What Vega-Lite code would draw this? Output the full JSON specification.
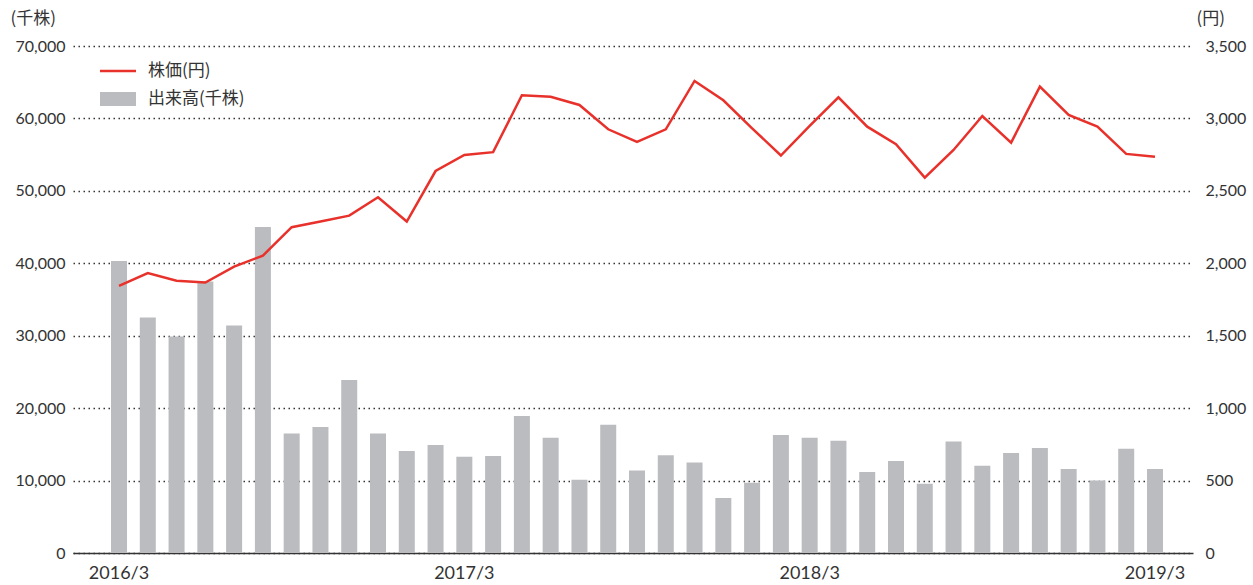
{
  "$schema": "https://vega.github.io/schema/vega-lite/v6.json",
  "width": 1120,
  "height": 507,
  "autosize": {"type": "none"},
  "padding": {"left": 73, "top": 46, "right": 60, "bottom": 32},
  "background": "white",
  "config": {
    "view": {"stroke": null},
    "font": "Lato",
    "axis": {"labelFont": "Lato", "labelFontSize": 16, "labelColor": "#333333", "titleFont": "Noto Sans CJK JP", "titleFontSize": 17, "titleFontWeight": "normal", "titleColor": "#333333"}
  },
  "data": {
    "values": [
      {"month": "2016/3", "volume": 40300, "price": 1844},
      {"month": "2016/4", "volume": 32500, "price": 1932},
      {"month": "2016/5", "volume": 29900, "price": 1879},
      {"month": "2016/6", "volume": 37500, "price": 1867},
      {"month": "2016/7", "volume": 31400, "price": 1977},
      {"month": "2016/8", "volume": 45000, "price": 2053},
      {"month": "2016/9", "volume": 16500, "price": 2249},
      {"month": "2016/10", "volume": 17400, "price": 2288},
      {"month": "2016/11", "volume": 23900, "price": 2329},
      {"month": "2016/12", "volume": 16500, "price": 2456},
      {"month": "2017/1", "volume": 14100, "price": 2288},
      {"month": "2017/2", "volume": 14900, "price": 2637},
      {"month": "2017/3", "volume": 13300, "price": 2748},
      {"month": "2017/4", "volume": 13400, "price": 2767},
      {"month": "2017/5", "volume": 18900, "price": 3160},
      {"month": "2017/6", "volume": 15900, "price": 3150},
      {"month": "2017/7", "volume": 10100, "price": 3093},
      {"month": "2017/8", "volume": 17700, "price": 2925},
      {"month": "2017/9", "volume": 11400, "price": 2838},
      {"month": "2017/10", "volume": 13500, "price": 2925},
      {"month": "2017/11", "volume": 12500, "price": 3259},
      {"month": "2017/12", "volume": 7600, "price": 3125},
      {"month": "2018/1", "volume": 9700, "price": 2932},
      {"month": "2018/2", "volume": 16300, "price": 2744},
      {"month": "2018/3", "volume": 15900, "price": 2948},
      {"month": "2018/4", "volume": 15500, "price": 3146},
      {"month": "2018/5", "volume": 11200, "price": 2943},
      {"month": "2018/6", "volume": 12700, "price": 2822},
      {"month": "2018/7", "volume": 9550, "price": 2591},
      {"month": "2018/8", "volume": 15400, "price": 2782},
      {"month": "2018/9", "volume": 12050, "price": 3017},
      {"month": "2018/10", "volume": 13800, "price": 2833},
      {"month": "2018/11", "volume": 14500, "price": 3219},
      {"month": "2018/12", "volume": 11600, "price": 3024},
      {"month": "2019/1", "volume": 10000, "price": 2943},
      {"month": "2019/2", "volume": 14400, "price": 2755},
      {"month": "2019/3", "volume": 11600, "price": 2736}
    ]
  },
  "encoding": {
    "x": {
      "field": "month",
      "type": "ordinal",
      "sort": null,
      "scale": {"paddingInner": 0.08, "paddingOuter": 1, "align": 0.5},
      "axis": {
        "title": null,
        "values": ["2016/3", "2017/3", "2018/3", "2019/3"],
        "labelAngle": 0,
        "labelFontSize": 18,
        "labelOffset": 4,
        "ticks": false,
        "domain": true,
        "domainColor": "#333333",
        "domainWidth": 1.5,
        "labelPadding": 11,
        "grid": false
      }
    }
  },
  "layer": [
    {
      "mark": {"type": "bar", "tooltip": false, "width": 16, "xOffset": 4},
      "encoding": {
        "y": {
          "field": "volume",
          "type": "quantitative",
          "scale": {"domain": [0, 70000], "nice": false},
          "axis": {
            "orient": "left",
            "title": "(千株)",
            "titleAngle": 0,
            "titleX": -63,
            "titleY": -28,
            "titleAlign": "left",
            "titleBaseline": "middle",
            "values": [0, 10000, 20000, 30000, 40000, 50000, 60000, 70000],
            "format": ",.0f",
            "ticks": false,
            "domain": false,
            "labelPadding": 8,
            "grid": true,
            "gridColor": "#333333",
            "gridDash": [1.5, 3.5],
            "gridWidth": 1.5
          }
        },
        "color": {
          "datum": "出来高(千株)",
          "scale": {"domain": ["株価(円)", "出来高(千株)"], "range": ["#e8312a", "#bbbcc0"]},
          "legend": {
            "title": null,
            "orient": "none",
            "legendX": 27,
            "legendY": 7,
            "labelFont": "Noto Sans CJK JP",
            "labelFontSize": 17,
            "labelColor": "#333333",
            "labelOffset": 12,
            "rowPadding": 2,
            "symbolSize": 1296,
            "encode": {
              "symbols": {
                "update": {
                  "shape": {"signal": "datum.label === '株価(円)' ? 'M-1,-0.07H1V0.07H-1Z' : 'M-1,-0.39H1V0.39H-1Z'"},
                  "fill": {"signal": "datum.label === '株価(円)' ? '#e8312a' : '#bbbcc0'"},
                  "stroke": {"value": "transparent"},
                  "strokeWidth": {"value": 0},
                  "opacity": {"value": 1},
                  "fillOpacity": {"value": 1}
                }
              }
            }
          }
        }
      }
    },
    {
      "mark": {"type": "line", "strokeWidth": 2.5, "color": "#e8312a", "xOffset": 4},
      "encoding": {
        "y": {
          "field": "price",
          "type": "quantitative",
          "scale": {"domain": [0, 3500], "nice": false},
          "axis": {
            "orient": "right",
            "title": "(円)",
            "titleAngle": 0,
            "titleX": 3,
            "titleY": -28,
            "titleAlign": "left",
            "titleBaseline": "middle",
            "values": [0, 500, 1000, 1500, 2000, 2500, 3000, 3500],
            "format": ",.0f",
            "ticks": false,
            "domain": false,
            "labelPadding": 12,
            "grid": false
          }
        },
        "color": {"datum": "株価(円)"}
      }
    }
  ],
  "resolve": {"scale": {"y": "independent"}}
}
